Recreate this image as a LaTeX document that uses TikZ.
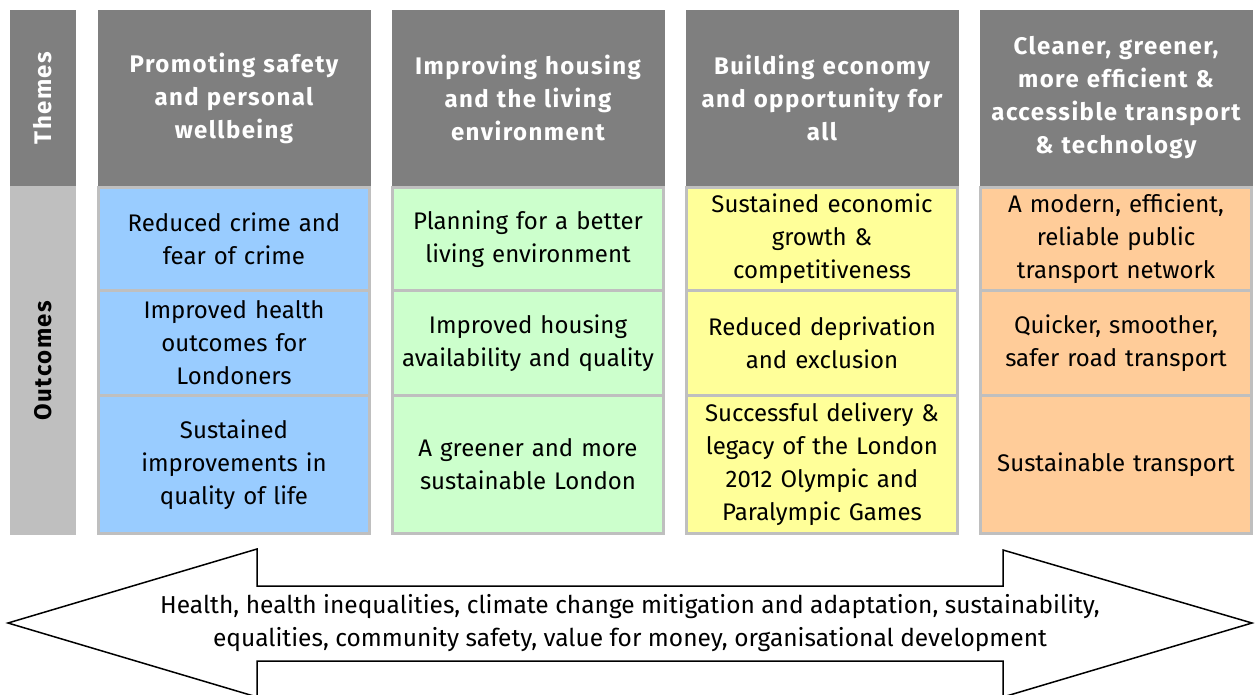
\documentclass[tikz,border=0pt]{standalone}
\usepackage{fontspec}
\setmainfont{Fira Sans}
\newfontfamily\themefamily[LetterSpace=6]{Fira Sans}

\definecolor{themegrey}{HTML}{7F7F7F}
\definecolor{cellgrey}{HTML}{BFBFBF}
\definecolor{safety}{HTML}{99CCFF}
\definecolor{housing}{HTML}{CCFFCC}
\definecolor{economy}{HTML}{FFFF99}
\definecolor{transport}{HTML}{FFCC99}

\newcommand\cellfont{\fontsize{24}{33}\selectfont}
\newcommand\themefont{\themefamily\bfseries\fontsize{24}{33}\selectfont}

\tikzset{
  theme/.style={fill=themegrey,text=white,font=\themefont,minimum width=273pt,minimum height=176pt,inner sep=0pt,text width=268pt,align=center},
  outcome/.style={fill=#1,draw=cellgrey,line width=3pt,minimum width=271pt,inner sep=0pt,text width=266pt,align=center,font=\cellfont},
  sidetag/.style={rotate=90,font=\themefont,inner sep=0pt,minimum height=66pt}
}

\begin{document}
\begin{tikzpicture}[x=1pt,y=-1pt]
\useasboundingbox (0,0) rectangle (1258,694);
\clip (0,0) rectangle (1258,694);
\node[sidetag,fill=themegrey,text=white,minimum width=176pt] (themes) at (43,98) {Themes};
\node[sidetag,fill=cellgrey,text=black,minimum width=349pt] (outcomes) at (43,360.5) {Outcomes};
\node[theme] (t1) at (234,98) {Promoting safety\\and personal\\wellbeing};
\node[theme] (t2) at (528,98) {Improving housing\\and the living\\environment};
\node[theme] (t3) at (822,98) {Building economy\\and opportunity for\\all};
\node[theme] (t4) at (1116,98) {Cleaner, greener,\\more efficient \&\\accessible transport\\\& technology};
\node[outcome=safety,minimum height=103pt] (o11) at (234,239) {Reduced crime and\\fear of crime};
\node[outcome=safety,minimum height=104.5pt] (o12) at (234,342.75) {Improved health\\outcomes for\\Londoners};
\node[outcome=safety,minimum height=138.5pt] (o13) at (234,464.25) {Sustained\\improvements in\\quality of life};
\node[outcome=housing,minimum height=103pt] (o21) at (528,239) {Planning for a better\\living environment};
\node[outcome=housing,minimum height=104.5pt] (o22) at (528,342.75) {Improved housing\\availability and quality};
\node[outcome=housing,minimum height=138.5pt] (o23) at (528,464.25) {A greener and more\\sustainable London};
\node[outcome=economy,minimum height=103pt] (o31) at (822,239) {Sustained economic\\growth \&\\competitiveness};
\node[outcome=economy,minimum height=104.5pt] (o32) at (822,342.75) {Reduced deprivation\\and exclusion};
\node[outcome=economy,minimum height=138.5pt] (o33) at (822,464.25) {Successful delivery \&\\legacy of the London\\2012 Olympic and\\Paralympic Games};
\node[outcome=transport,minimum height=103pt] (o41) at (1116,239) {A modern, efficient,\\reliable public\\transport network};
\node[outcome=transport,minimum height=104.5pt] (o42) at (1116,342.75) {Quicker, smoother,\\safer road transport};
\node[outcome=transport,minimum height=138.5pt] (o43) at (1116,464.25) {Sustainable transport};
\draw[fill=white,line width=1.5pt,line join=miter] (8,623) -- (257,549) -- (257,586) -- (1003,586) -- (1003,550) -- (1252,623) -- (1003,697) -- (1003,661) -- (257,661) -- (257,697) -- cycle;
\node[font=\fontsize{24.5}{33}\selectfont,align=center,inner sep=0pt] (crosscut) at (630,623) {Health, health inequalities, climate change mitigation and adaptation, sustainability,\\equalities, community safety, value for money, organisational development};
\end{tikzpicture}
\end{document}
